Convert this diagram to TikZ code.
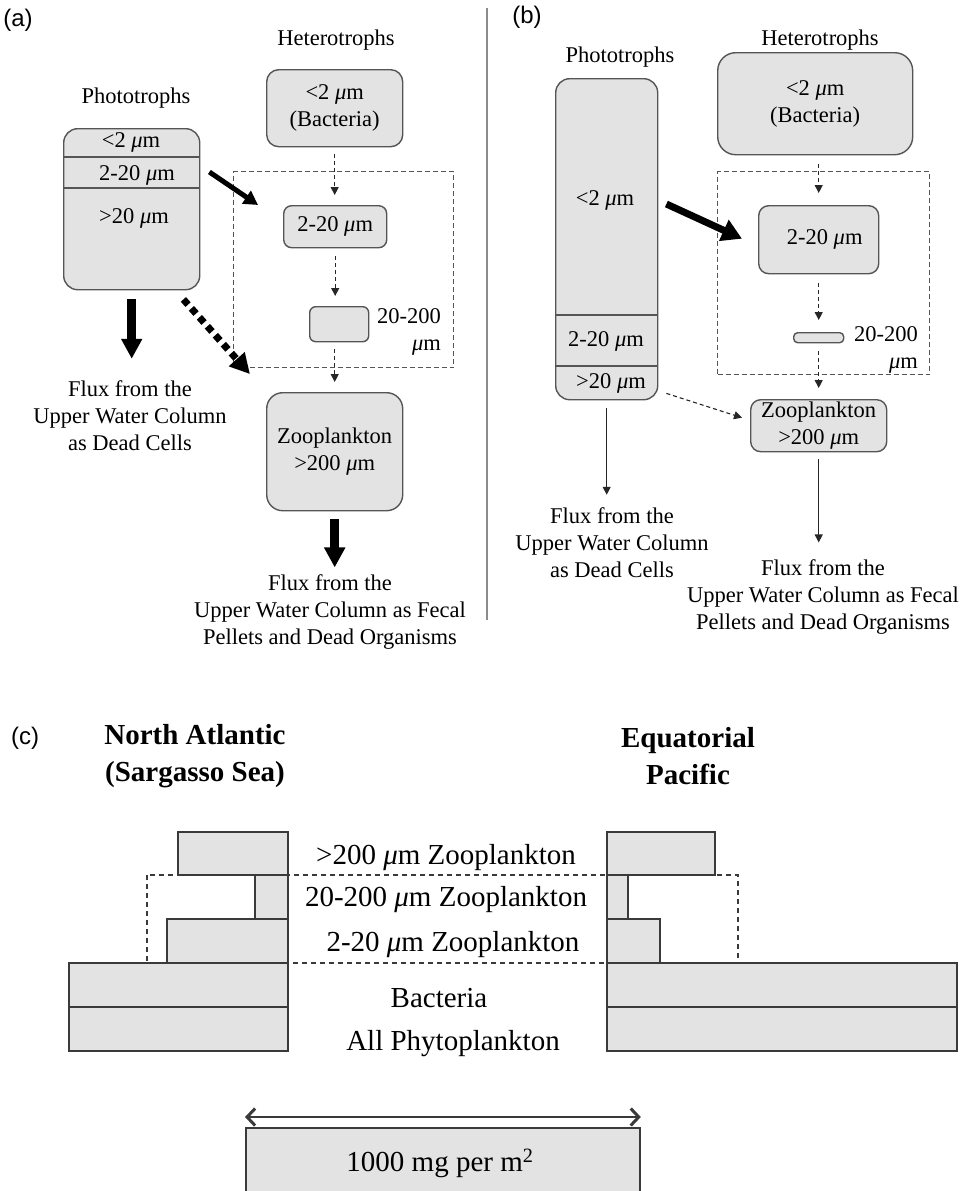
\documentclass[tikz,border=0pt]{standalone}
\usepackage{fontspec}
\setmainfont{Liberation Serif}
\newfontfamily\panelfont{Liberation Sans}
\usepackage{tikz}
\usetikzlibrary{arrows.meta,positioning,calc}
\definecolor{cellfill}{HTML}{E3E3E3}
\definecolor{cellline}{HTML}{555555}
\definecolor{barline}{HTML}{3A3A3A}
\definecolor{rulegray}{HTML}{8C8C8C}
\newcommand{\um}{\textit{μ}m}

\begin{document}
\begin{tikzpicture}[
  x=1pt, y=-1pt,
  cellbox/.style={
    draw=cellline,
    fill=cellfill,
    line width=1.4pt,
    rounded corners=12pt,
    inner sep=0pt,
    align=center,
    font=\fontsize{22.5}{27}\selectfont
  },
  txt/.style={inner sep=0pt, align=center, font=\fontsize{22.5}{27}\selectfont},
  ctxt/.style={inner sep=0pt, align=center, font=\fontsize{29}{35}\selectfont},
  head/.style={inner sep=0pt, align=center, font=\fontsize{29}{37}\selectfont\bfseries},
  panel/.style={inner sep=0pt, font=\panelfont\fontsize{24}{28}\selectfont},
  grpbox/.style={draw=cellline, line width=1.1pt, dash pattern=on 5pt off 3pt, inner sep=0pt},
  cellrule/.style={draw=cellline, line width=1.4pt},
  thinflow/.style={-{Triangle[length=8pt, width=8pt]}, line width=1.1pt, draw=black!85},
  fatflow/.style={-{Triangle[length=20pt, width=20pt]}, line width=9pt},
  bar/.style={draw=barline, fill=cellfill, line width=1.8pt},
  scalebarb/.tip={Straight Barb[length=8pt, width=17pt, line width=3pt]}
]

  \useasboundingbox (0,0) rectangle (963,1191);
  \clip (0,0) rectangle (963,1191);

  % --- PANEL (a): Sargasso Sea food web ---
  \node[panel] (labA) at (18,20) {(a)};
  \node[txt] (hetA) at (336,40) {Heterotrophs};
  \node[txt] (phtA) at (136,98) {Phototrophs};

  \node[cellbox, minimum width=136, minimum height=77, anchor=north west] (bacA) at (266,69) {<2 \um\\(Bacteria)};

  \node[cellbox, rounded corners=14pt, minimum width=136, minimum height=161, anchor=north west] (phA) at (63,128) {};
  \draw[cellrule] ($(phA.north west)+(0,29)$) -- ($(phA.north east)+(0,29)$);
  \draw[cellrule] ($(phA.north west)+(0,60)$) -- ($(phA.north east)+(0,60)$);
  \node[txt] (phA1) at (131,142) {<2 \um};
  \node[txt] (phA2) at (137,175) {2-20 \um};
  \node[txt] (phA3) at (134,218) {>20 \um};

  \node[grpbox, minimum width=220, minimum height=196, anchor=north west] (grpA) at (233,171) {};
  \node[cellbox, rounded corners=8pt, minimum width=103, minimum height=42, anchor=north west] (midA) at (283,205) {2-20 \um};
  \node[cellbox, rounded corners=6pt, minimum width=59, minimum height=35, anchor=north west] (lrgA) at (309,306) {};
  \node[txt, align=right, anchor=east] (lrgAlab) at (441,332) {20-200\\\um};
  \node[cellbox, rounded corners=16pt, minimum width=136, minimum height=118, anchor=north west] (zooA) at (266,392) {Zooplankton\\>200 \um};

  \node[txt] (fluxA) at (130,416) {Flux from the\\Upper Water Column\\as Dead Cells};
  \node[txt] (fluxA2) at (330,612) {Flux from the\\Upper Water Column as Fecal\\Pellets and Dead Organisms};

  % dashed grazing chain
  \draw[thinflow, dash pattern=on 4pt off 3pt, shorten <=7pt, shorten >=10pt] (bacA.south) -- (bacA.south |- midA.north);
  \draw[thinflow, dash pattern=on 4pt off 3pt, shorten <=8pt, shorten >=10pt] (midA.south) -- (midA.south |- lrgA.north);
  \draw[thinflow, dash pattern=on 4pt off 3pt, shorten <=7pt, shorten >=10pt] (zooA.north |- lrgA.south) -- (zooA.north);

  % heavy fluxes
  \draw[-{Triangle[length=14pt, width=15pt]}, line width=5pt] ($(phA.north east)+(9,44)$) -- ($(midA.north west)+(-25,0)$);
  \draw[fatflow, shorten <=9pt, shorten >=22pt] (phA.south) -- (phA.south |- fluxA.north);
  \draw[-{Triangle[length=20pt, width=20pt]}, line width=7pt, dash pattern=on 7pt off 5pt] ($(phA.south east)+(-17,9)$) -- ($(grpA.south west)+(17,6)$);
  \draw[fatflow, shorten <=8pt, shorten >=7pt] (zooA.south) -- (zooA.south |- fluxA2.north);

  % separator
  \draw[rulegray, line width=1.6pt] (487,8) -- (487,620);

  % --- PANEL (b): Equatorial Pacific food web ---
  \node[panel] (labB) at (527,17) {(b)};
  \node[txt] (hetB) at (820,40) {Heterotrophs};
  \node[txt] (phtB) at (620,57) {Phototrophs};

  \node[cellbox, rounded corners=14pt, minimum width=102, minimum height=321, anchor=north west] (phB) at (555,78) {};
  \draw[cellrule] ($(phB.north west)+(0,237)$) -- ($(phB.north east)+(0,237)$);
  \draw[cellrule] ($(phB.north west)+(0,288)$) -- ($(phB.north east)+(0,288)$);
  \node[txt] (phB1) at (605,200) {<2 \um};
  \node[txt] (phB2) at (606,341) {2-20 \um};
  \node[txt] (phB3) at (611,383) {>20 \um};

  \node[cellbox, rounded corners=18pt, minimum width=195, minimum height=102, anchor=north west] (bacB) at (717,52) {<2 \um\\(Bacteria)};
  \node[grpbox, minimum width=212, minimum height=203, anchor=north west] (grpB) at (717,171) {};
  \node[cellbox, rounded corners=10pt, minimum width=120, minimum height=68, anchor=north west] (midB) at (758,205) {\hspace*{12pt}2-20 \um};
  \node[cellbox, rounded corners=4pt, minimum width=50, minimum height=10, anchor=north west] (lrgB) at (793,332) {};
  \node[txt, align=right, anchor=east] (lrgBlab) at (918,350) {20-200\\\um};
  \node[cellbox, rounded corners=10pt, minimum width=136, minimum height=52, anchor=north west] (zooB) at (750,399) {Zooplankton\\>200 \um};

  \node[txt] (fluxB) at (612,543) {Flux from the\\Upper Water Column\\as Dead Cells};
  \node[txt] (fluxB2) at (823,597) {Flux from the\\Upper Water Column as Fecal\\Pellets and Dead Organisms};

  \draw[thinflow, dash pattern=on 4pt off 3pt, shorten <=9pt, shorten >=12pt] (midB.north |- bacB.south) -- (midB.north);
  \draw[thinflow, dash pattern=on 4pt off 3pt, shorten <=9pt, shorten >=12pt] (midB.south) -- (lrgB.north);
  \draw[thinflow, dash pattern=on 4pt off 3pt, shorten <=8pt, shorten >=11pt] (lrgB.south) -- (zooB.north);

  \draw[-{Triangle[length=20pt, width=22pt]}, line width=7pt] ($(phB.north east)+(8,126)$) -- ($(midB.west)+(-16,-1)$);
  \draw[thinflow, dash pattern=on 4pt off 3pt] ($(phB.south east)+(8,-7)$) -- ($(zooB.west)+(-8,-8)$);
  \draw[thinflow, shorten <=8pt, shorten >=13pt] (phB.south) -- (phB.south |- fluxB.north);
  \draw[thinflow, shorten <=7pt, shorten >=17pt] (zooB.south) -- (zooB.south |- fluxB2.north);

  % --- PANEL (c): standing stocks ---
  \node[panel] (labC) at (25,738) {(c)};
  \node[head] (natl) at (195,756) {North Atlantic\\(Sargasso Sea)};
  \node[head] (eqpac) at (688,756) {Equatorial\\Pacific};

  \draw[draw=barline, line width=1.2pt, dash pattern=on 5pt off 4pt] (147,875) rectangle (738,963);

  % North Atlantic stack
  \draw[bar] (178,832) rectangle (288,875);
  \draw[bar] (255,875) rectangle (288,919);
  \draw[bar] (167,919) rectangle (288,963);
  \draw[bar] (69,963) rectangle (288,1007);
  \draw[bar] (69,1007) rectangle (288,1051);

  % Equatorial Pacific stack
  \draw[bar] (607,832) rectangle (715,875);
  \draw[bar] (607,875) rectangle (628,919);
  \draw[bar] (607,919) rectangle (660,963);
  \draw[bar] (607,963) rectangle (957,1007);
  \draw[bar] (607,1007) rectangle (957,1051);

  \node[ctxt] (lz200) at (446,858) {>200 \um{} Zooplankton};
  \node[ctxt] (lz20) at (446,900) {20-200 \um{} Zooplankton};
  \node[ctxt] (lz2) at (453,945) {2-20 \um{} Zooplankton};
  \node[ctxt] (lbac) at (439,998) {Bacteria};
  \node[ctxt] (lphy) at (453,1044) {All Phytoplankton};

  % scale bar
  \node[bar, minimum width=394, minimum height=100, anchor=north west, inner sep=0pt] (scale) at (245,1127) {};
  \node[ctxt] (scaletxt) at (440,1163) {1000 mg per m\textsuperscript{2}};
  \draw[scalebarb-scalebarb, line width=2.2pt, barline] ($(scale.north west)+(0,-10)$) -- ($(scale.north east)+(0,-10)$);

\end{tikzpicture}
\end{document}
